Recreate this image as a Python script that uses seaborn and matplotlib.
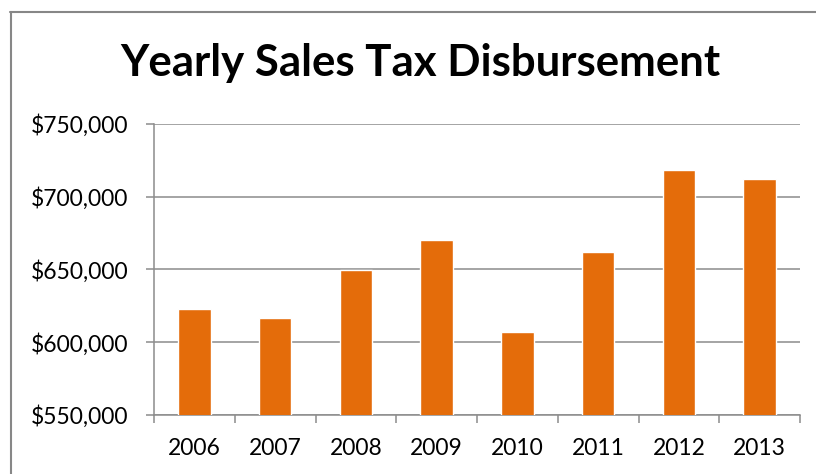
import matplotlib
matplotlib.use("Agg")
import matplotlib.pyplot as plt
import matplotlib.ticker as mticker
from matplotlib.lines import Line2D
import seaborn as sns
import pandas as pd

years = ["2006", "2007", "2008", "2009", "2010", "2011", "2012", "2013"]
sales = [622900, 616500, 649400, 670500, 606800, 661600, 718600, 712200]
yticks = [550000, 600000, 650000, 700000, 750000]
title = "Yearly Sales Tax Disbursement"

df = pd.DataFrame({"Year": years, "Sales": sales})

sns.set_theme(style="white")
plt.rcParams['font.family'] = ['Lato', 'DejaVu Sans']

W, H = 816, 474
fig = plt.figure(figsize=(W / 100, H / 100), dpi=100)
ax = fig.add_axes([154 / W, 1 - 414.7 / H, (800 - 154) / W, (414.7 - 124) / H])

grid_c = "#8c8c8c"
sns.barplot(data=df, x="Year", y="Sales", color="#E46C0A", saturation=1,
            width=0.4, ax=ax, zorder=3)

ax.set_ylim(550000, 750000)
ax.set_xlim(-0.5, len(years) - 0.5)
ax.set_yticks(yticks)
ax.yaxis.set_major_formatter(mticker.FuncFormatter(lambda v, p: f"${v:,.0f}"))
ax.set_xlabel("")
ax.set_ylabel("")
ax.yaxis.grid(True, color=grid_c, linewidth=1.1, zorder=0)
ax.set_axisbelow(True)

for s in ["top", "right"]:
    ax.spines[s].set_visible(False)
for s in ["left", "bottom"]:
    ax.spines[s].set_color(grid_c)
    ax.spines[s].set_linewidth(1.1)

ax.tick_params(axis="y", which="major", direction="out", length=5.5, width=1.1,
               color=grid_c, labelsize=16.5, labelcolor="black", pad=13, left=True)
ax.tick_params(axis="x", which="major", bottom=False, length=0, labelsize=16.5,
               labelcolor="black", pad=17)
ax.set_xticks(range(len(years)))
ax.set_xticklabels(years)
ax.set_xticks([i - 0.5 for i in range(len(years) + 1)], minor=True)
ax.tick_params(axis="x", which="minor", bottom=True, direction="out", length=5.5,
               width=1.1, color=grid_c)

fig.text(0.5 * (122 + 718) / W, 1 - 63 / H, title, ha="center", va="center",
         fontsize=31.5, fontweight="bold", color="black")

# chart frame (top and left edges)
fig.add_artist(Line2D([10 / W, 1], [1 - 11.5 / H, 1 - 11.5 / H],
                      transform=fig.transFigure, color="#878787", linewidth=1.5))
fig.add_artist(Line2D([11 / W, 11 / W], [0, 1 - 11.5 / H],
                      transform=fig.transFigure, color="#878787", linewidth=1.5))

fig.savefig("out.png", dpi=100)
